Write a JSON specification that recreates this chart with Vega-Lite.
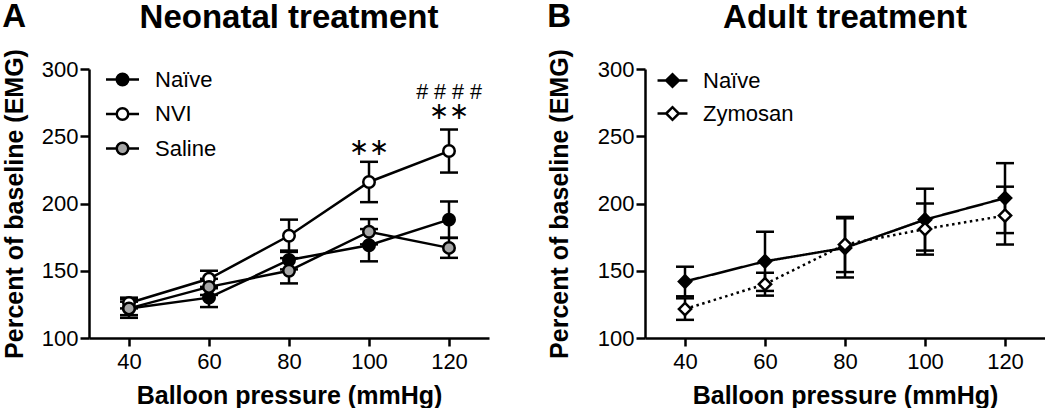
{
  "$schema": "https://vega.github.io/schema/vega-lite/v6.json",
  "background": "white",
  "padding": {"left": 2, "top": 0, "right": 0, "bottom": 0},
  "config": {
    "view": {"stroke": null},
    "font": "Liberation Sans",
    "axis": {"grid": false, "domainColor": "black", "domainWidth": 2.5, "tickColor": "black", "tickWidth": 2.5, "labelColor": "black", "labelFontSize": 22, "labelFont": "Liberation Sans", "labelFlush": false, "titleColor": "black", "titleFont": "Liberation Sans", "titleFontSize": 25, "titleFontWeight": "bold"},
    "axisX": {"tickSize": 8, "labelPadding": 5.5, "titlePadding": 11},
    "axisY": {"tickSize": 9, "labelPadding": 2},
    "title": {"font": "Liberation Sans", "fontSize": 33, "fontWeight": "bold", "color": "black"},
    "legend": {"labelFont": "Liberation Sans", "labelFontSize": 22, "labelColor": "black", "padding": 0, "symbolStrokeColor": "black", "symbolStrokeWidth": 2.5},
    "concat": {"spacing": 58}
  },
  "resolve": {"scale": {"fill": "independent"}, "legend": {"fill": "independent"}},
  "datasets": {
    "neo": [
      {"series": "Naïve", "pressure": 40, "mean": 122, "sem": 7},
      {"series": "Naïve", "pressure": 60, "mean": 130, "sem": 7},
      {"series": "Naïve", "pressure": 80, "mean": 158, "sem": 7},
      {"series": "Naïve", "pressure": 100, "mean": 169, "sem": 12},
      {"series": "Naïve", "pressure": 120, "mean": 188, "sem": 13.5},
      {"series": "NVI", "pressure": 40, "mean": 126, "sem": 4},
      {"series": "NVI", "pressure": 60, "mean": 144, "sem": 6},
      {"series": "NVI", "pressure": 80, "mean": 176, "sem": 12},
      {"series": "NVI", "pressure": 100, "mean": 216, "sem": 15},
      {"series": "NVI", "pressure": 120, "mean": 239, "sem": 16},
      {"series": "Saline", "pressure": 40, "mean": 122, "sem": 5},
      {"series": "Saline", "pressure": 60, "mean": 138, "sem": 6},
      {"series": "Saline", "pressure": 80, "mean": 150, "sem": 9.4},
      {"series": "Saline", "pressure": 100, "mean": 179, "sem": 9.4},
      {"series": "Saline", "pressure": 120, "mean": 167, "sem": 7.4}
    ],
    "neoStars": [
      {"pressure": 100, "mean": 241.5, "label": "∗∗"},
      {"pressure": 120, "mean": 268, "label": "∗∗"}
    ],
    "neoHash": [
      {"pressure": 120, "mean": 282.5, "label": "# # # #"}
    ],
    "adult": [
      {"series": "Naïve", "pressure": 40, "mean": 142, "sem": 11},
      {"series": "Naïve", "pressure": 60, "mean": 157, "sem": 22},
      {"series": "Naïve", "pressure": 80, "mean": 167, "sem": 22},
      {"series": "Naïve", "pressure": 100, "mean": 188, "sem": 23},
      {"series": "Naïve", "pressure": 120, "mean": 204, "sem": 26},
      {"series": "Zymosan", "pressure": 40, "mean": 121.5, "sem": 8},
      {"series": "Zymosan", "pressure": 60, "mean": 140, "sem": 8.5},
      {"series": "Zymosan", "pressure": 80, "mean": 169.5, "sem": 20.5},
      {"series": "Zymosan", "pressure": 100, "mean": 181, "sem": 19},
      {"series": "Zymosan", "pressure": 120, "mean": 191, "sem": 21.5}
    ]
  },
  "hconcat": [
    {
      "title": {"text": "A", "anchor": "start", "frame": "bounds", "offset": -32},
      "hconcat": [
        {
          "width": 400,
          "height": 269,
          "title": {"text": "Neonatal treatment", "anchor": "middle", "frame": "group", "offset": 14},
          "layer": [
            {
              "data": {"name": "neo"},
              "mark": {"type": "errorbar", "ticks": true, "size": 18, "thickness": 2.5, "color": "black", "opacity": 1},
              "encoding": {
                "x": {"field": "pressure", "type": "quantitative", "scale": {"domain": [30, 130], "nice": false},
                      "axis": {"title": "Balloon pressure (mmHg)", "values": [40, 60, 80, 100, 120]}},
                "y": {"field": "mean", "type": "quantitative", "scale": {"domain": [100, 300], "nice": false},
                      "axis": {"title": "Percent of baseline (EMG)", "values": [100, 150, 200, 250, 300], "titlePadding": 14}},
                "yError": {"field": "sem"},
                "detail": {"field": "series"}
              }
            },
            {
              "data": {"name": "neo"},
              "mark": {"type": "line", "color": "black", "strokeWidth": 2.5},
              "encoding": {
                "x": {"field": "pressure", "type": "quantitative", "scale": {"domain": [30, 130], "nice": false},
                      "axis": {"title": "Balloon pressure (mmHg)", "values": [40, 60, 80, 100, 120]}},
                "y": {"field": "mean", "type": "quantitative", "scale": {"domain": [100, 300], "nice": false},
                      "axis": {"title": "Percent of baseline (EMG)", "values": [100, 150, 200, 250, 300], "titlePadding": 14}},
                "detail": {"field": "series"}
              }
            },
            {
              "data": {"name": "neo"},
              "mark": {"type": "point", "shape": "circle", "filled": true, "size": 132, "stroke": "black", "strokeWidth": 2.5, "opacity": 1},
              "encoding": {
                "x": {"field": "pressure", "type": "quantitative", "scale": {"domain": [30, 130], "nice": false},
                      "axis": {"title": "Balloon pressure (mmHg)", "values": [40, 60, 80, 100, 120]}},
                "y": {"field": "mean", "type": "quantitative", "scale": {"domain": [100, 300], "nice": false},
                      "axis": {"title": "Percent of baseline (EMG)", "values": [100, 150, 200, 250, 300], "titlePadding": 14}},
                "fill": {"field": "series", "type": "nominal",
                         "scale": {"domain": ["Naïve", "NVI", "Saline"], "range": ["#000000", "#ffffff", "#a6a6a6"]},
                         "legend": {"orient": "none", "direction": "vertical", "legendX": 18, "legendY": -5, "title": null,
                                    "symbolType": "M-1.18,0H-0.41M0.41,0H1.18M-0.41,0A0.41,0.41,0,1,1,0.41,0A0.41,0.41,0,1,1,-0.41,0Z",
                                    "symbolSize": 784, "labelOffset": 17, "rowPadding": 7.5}}
              }
            },
            {
              "data": {"name": "neoStars"},
              "mark": {"type": "text", "font": "DejaVu Sans", "fontSize": 24, "baseline": "middle", "align": "center", "color": "black"},
              "encoding": {
                "x": {"field": "pressure", "type": "quantitative", "scale": {"domain": [30, 130], "nice": false},
                      "axis": {"title": "Balloon pressure (mmHg)", "values": [40, 60, 80, 100, 120]}},
                "y": {"field": "mean", "type": "quantitative", "scale": {"domain": [100, 300], "nice": false},
                      "axis": {"title": "Percent of baseline (EMG)", "values": [100, 150, 200, 250, 300], "titlePadding": 14}},
                "text": {"field": "label"}
              }
            },
            {
              "data": {"name": "neoHash"},
              "mark": {"type": "text", "font": "Liberation Sans", "fontSize": 21.5, "baseline": "middle", "align": "center", "color": "black"},
              "encoding": {
                "x": {"field": "pressure", "type": "quantitative", "scale": {"domain": [30, 130], "nice": false},
                      "axis": {"title": "Balloon pressure (mmHg)", "values": [40, 60, 80, 100, 120]}},
                "y": {"field": "mean", "type": "quantitative", "scale": {"domain": [100, 300], "nice": false},
                      "axis": {"title": "Percent of baseline (EMG)", "values": [100, 150, 200, 250, 300], "titlePadding": 14}},
                "text": {"field": "label"}
              }
            }
          ]
        }
      ]
    },
    {
      "title": {"text": "B", "anchor": "start", "frame": "bounds", "offset": -32},
      "hconcat": [
        {
          "width": 400,
          "height": 269,
          "title": {"text": "Adult treatment", "anchor": "middle", "frame": "group", "offset": 14},
          "layer": [
            {
              "data": {"name": "adult"},
              "mark": {"type": "errorbar", "ticks": true, "size": 18, "thickness": 2.5, "color": "black", "opacity": 1},
              "encoding": {
                "x": {"field": "pressure", "type": "quantitative", "scale": {"domain": [30, 130], "nice": false},
                      "axis": {"title": "Balloon pressure (mmHg)", "values": [40, 60, 80, 100, 120]}},
                "y": {"field": "mean", "type": "quantitative", "scale": {"domain": [100, 300], "nice": false},
                      "axis": {"title": "Percent of baseline (EMG)", "values": [100, 150, 200, 250, 300], "titlePadding": 25}},
                "yError": {"field": "sem"},
                "detail": {"field": "series"}
              }
            },
            {
              "data": {"name": "adult"},
              "mark": {"type": "line", "color": "black", "strokeWidth": 2.5},
              "encoding": {
                "x": {"field": "pressure", "type": "quantitative", "scale": {"domain": [30, 130], "nice": false},
                      "axis": {"title": "Balloon pressure (mmHg)", "values": [40, 60, 80, 100, 120]}},
                "y": {"field": "mean", "type": "quantitative", "scale": {"domain": [100, 300], "nice": false},
                      "axis": {"title": "Percent of baseline (EMG)", "values": [100, 150, 200, 250, 300], "titlePadding": 25}},
                "detail": {"field": "series"},
                "strokeDash": {"condition": {"test": "datum.series === 'Zymosan'", "value": [2.5, 3.5]}, "value": [1, 0]}
              }
            },
            {
              "data": {"name": "adult"},
              "mark": {"type": "point", "shape": "diamond", "filled": true, "size": 150, "stroke": "black", "strokeWidth": 2.5, "opacity": 1},
              "encoding": {
                "x": {"field": "pressure", "type": "quantitative", "scale": {"domain": [30, 130], "nice": false},
                      "axis": {"title": "Balloon pressure (mmHg)", "values": [40, 60, 80, 100, 120]}},
                "y": {"field": "mean", "type": "quantitative", "scale": {"domain": [100, 300], "nice": false},
                      "axis": {"title": "Percent of baseline (EMG)", "values": [100, 150, 200, 250, 300], "titlePadding": 25}},
                "fill": {"field": "series", "type": "nominal",
                         "scale": {"domain": ["Naïve", "Zymosan"], "range": ["#000000", "#ffffff"]},
                         "legend": {"orient": "none", "direction": "vertical", "legendX": 12, "legendY": -4, "title": null,
                                    "symbolType": "M-1.07,0H-0.45M0.45,0H1.07M-0.45,0L0,-0.45L0.45,0L0,0.45Z",
                                    "symbolSize": 784, "labelOffset": 15, "rowPadding": 6,
                                    "encode": {"symbols": {"update": {"shape": {"signal": "datum.value === 'Zymosan' ? 'M-1.1,0H-0.86M-0.74,0H-0.54M0.54,0H0.74M0.86,0H1.1M-0.45,0L0,-0.45L0.45,0L0,0.45Z' : 'M-1.07,0H-0.45M0.45,0H1.07M-0.45,0L0,-0.45L0.45,0L0,0.45Z'"}}}}}}
              }
            }
          ]
        }
      ]
    }
  ]
}
